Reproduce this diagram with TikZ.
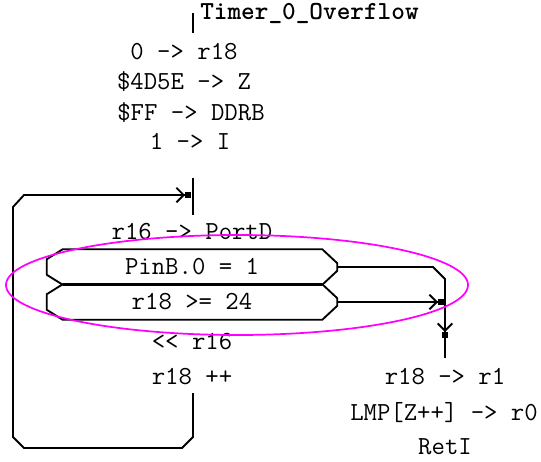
\documentclass[tikz,border=0pt]{standalone}
\usepackage{fontspec}
\usetikzlibrary{arrows.meta, calc}
\definecolor{selmag}{RGB}{255,0,255}
\tikzset{
  stmt/.style={font=\ttfamily\fontsize{19.5}{22}\selectfont, inner sep=0pt,
               text height=11.8pt, text depth=0pt},
  hdr/.style={stmt, font=\ttfamily\bfseries\fontsize{19.5}{22}\selectfont},
  cond/.style={stmt, minimum width=217.5pt, minimum height=26.25pt},
  wire/.style={line width=1.4pt},
  flow/.style={wire, -{Straight Barb[length=5.5pt,width=11pt] Square[length=4.5pt,width=4.5pt]}},
  sel/.style={draw=selmag, line width=1.3pt},
}
% test box with cut corners
\newcommand{\chambox}[1]{%
  \draw[wire] ($(#1.north west)+(16,0)$) -- ($(#1.north east)+(-15,0)$)
    -- ($(#1.north east)+(0,14)$) -- ($(#1.south east)+(0,-14)$)
    -- ($(#1.south east)+(-15,0)$) -- ($(#1.south west)+(16,0)$)
    -- ($(#1.south west)+(0,-10)$) -- ($(#1.north west)+(0,10)$) -- cycle;}

\begin{document}
\begin{tikzpicture}[x=0.75pt, y=-0.75pt]
  \useasboundingbox (0,0) rectangle (541,461);
  % entry
  \node[hdr, anchor=west] (title) at (200,12) {Timer\_0\_Overflow};
  \coordinate (entry) at (193,13);
  \draw[wire] (entry) -- ++(0,20);
  % init
  \node[stmt] (clr) at (184,52) {0 -> r18};
  \node[stmt] (zptr) at (184,82) {\$4D5E -> Z};
  \node[stmt] (ddrb) at (191,113) {\$FF -> DDRB};
  \node[stmt] (sei) at (190,142) {1 -> I};
  % loop join
  \coordinate (jtop) at (193,178);
  \coordinate (jbot) at (193,215);
  \coordinate (jarr) at (191,195);
  \draw[wire] (jtop) -- (jbot);
  \node[stmt] (out) at (192,232) {r16 -> PortD};
  % exit tests
  \node[cond] (pin) at (192,267) {PinB.0 = 1};
  \node[cond] (cnt) at (192,302) {r18 >= 24};
  \chambox{pin}
  \chambox{cnt}
  \draw[line width=2.4pt] ($(pin.south west)+(16,0)$) -- ($(pin.south east)+(-15,0)$);
  \node[stmt] (shl) at (192,342) {<< r16};
  \node[stmt] (inc) at (192,377) {r18 ++};
  % back to the top
  \coordinate (lstart) at (193,393);
  \draw[flow] (lstart) -- ++(0,44) -- ++(-11,11) -- (24,448) -- (13,437)
    -- (13,207) -- (24,195) -- (jarr);
  % exit
  \coordinate (exit) at (445,338);
  \coordinate (merge) at (444,302);
  \draw[flow] (pin.east) -- (433,267) -- (445,279) -- (exit);
  \draw[flow] (cnt.east) -- (merge);
  \draw[wire] (exit) -- ++(0,20);
  \node[stmt] (mov) at (445,377) {r18 -> r1};
  \node[stmt] (lpm) at (444,413) {LMP[Z++] -> r0};
  \node[stmt] (reti) at (445,447) {RetI};
  % selection
  \draw[sel] (237,285) ellipse [x radius=173.25pt, y radius=37.5pt];
\end{tikzpicture}
\end{document}
